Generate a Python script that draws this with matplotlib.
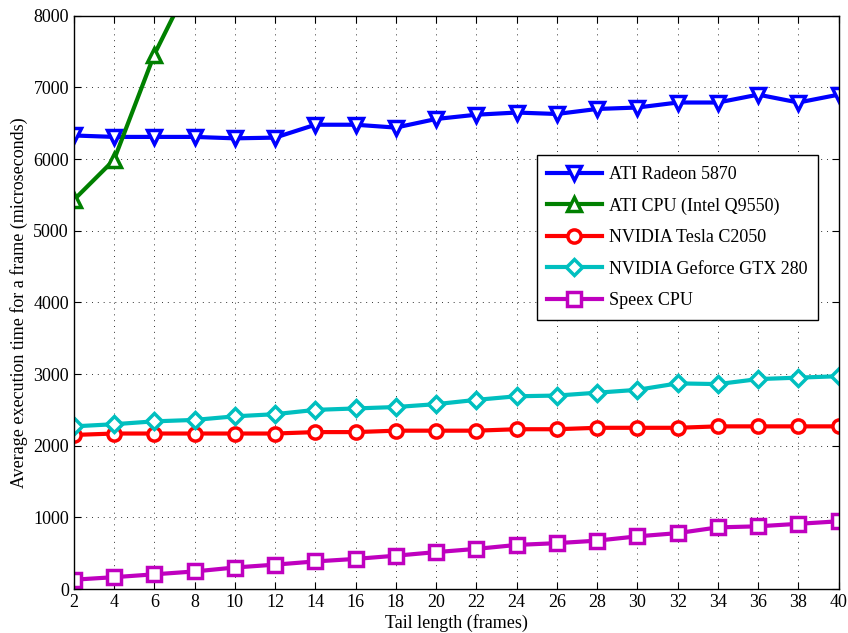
import matplotlib
matplotlib.use("Agg")
import matplotlib.pyplot as plt

plt.rcParams['font.family'] = ['Liberation Serif', 'DejaVu Serif']

tail = [2, 4, 6, 8, 10, 12, 14, 16, 18, 20, 22, 24, 26, 28, 30, 32, 34, 36, 38, 40]

ati_radeon = [6330, 6310, 6310, 6310, 6290, 6300, 6480, 6480, 6440, 6560,
              6620, 6650, 6630, 6700, 6720, 6790, 6790, 6900, 6790, 6900]
ati_cpu_tail = [2, 4, 6, 8]
ati_cpu = [5430, 5990, 7460, 8590]
tesla = [2150, 2170, 2170, 2170, 2170, 2170, 2190, 2190, 2210, 2210,
         2210, 2230, 2230, 2250, 2250, 2250, 2270, 2270, 2270, 2270]
gtx280 = [2270, 2300, 2340, 2360, 2410, 2440, 2500, 2520, 2540, 2580,
          2640, 2690, 2700, 2740, 2780, 2870, 2860, 2930, 2950, 2970]
speex = [130, 165, 205, 245, 300, 340, 385, 420, 465, 515,
         560, 615, 640, 675, 735, 780, 860, 875, 910, 945]

fig = plt.figure(figsize=(8.48, 6.33), dpi=100)
ax = fig.add_axes([0.087, 0.0695, 0.902, 0.9055])

lw = 3.0
ms = 9.5
mew = 2.5
ax.plot(tail, ati_radeon, color='#0000ff', lw=lw, marker='v', ms=ms, mew=mew,
        mfc='white', label='ATI Radeon 5870')
ax.plot(ati_cpu_tail, ati_cpu, color='#008000', lw=lw, marker='^', ms=ms, mew=mew,
        mfc='white', label='ATI CPU (Intel Q9550)')
ax.plot(tail, tesla, color='#ff0000', lw=lw, marker='o', ms=ms, mew=mew,
        mfc='white', label='NVIDIA Tesla C2050')
ax.plot(tail, gtx280, color='#00bfbf', lw=lw, marker='D', ms=ms - 1, mew=mew,
        mfc='white', label='NVIDIA Geforce GTX 280')
ax.plot(tail, speex, color='#bf00bf', lw=lw, marker='s', ms=ms, mew=mew,
        mfc='white', label='Speex CPU')

ax.set_xlim(2, 40)
ax.set_ylim(0, 8000)
ax.set_xticks(tail)
ax.set_yticks(range(0, 8001, 1000))
ax.tick_params(direction='in', top=True, right=True, labelsize=13, length=5)
ax.grid(True, linestyle=(0, (1, 5)), color='#333333', lw=0.7)
for s in ax.spines.values():
    s.set_linewidth(1.0)

ax.set_xlabel('Tail length (frames)', fontsize=13, labelpad=2)
ax.set_ylabel('Average execution time for a frame (microseconds)', fontsize=13, labelpad=4)

leg = ax.legend(loc='upper left', bbox_to_anchor=(0.605, 0.757), borderaxespad=0,
                fontsize=13, fancybox=False, edgecolor='black', framealpha=1,
                handlelength=3.0, borderpad=0.6, labelspacing=0.8, handletextpad=0.4)
leg.get_frame().set_linewidth(1.0)

fig.savefig('out.png', dpi=100)
